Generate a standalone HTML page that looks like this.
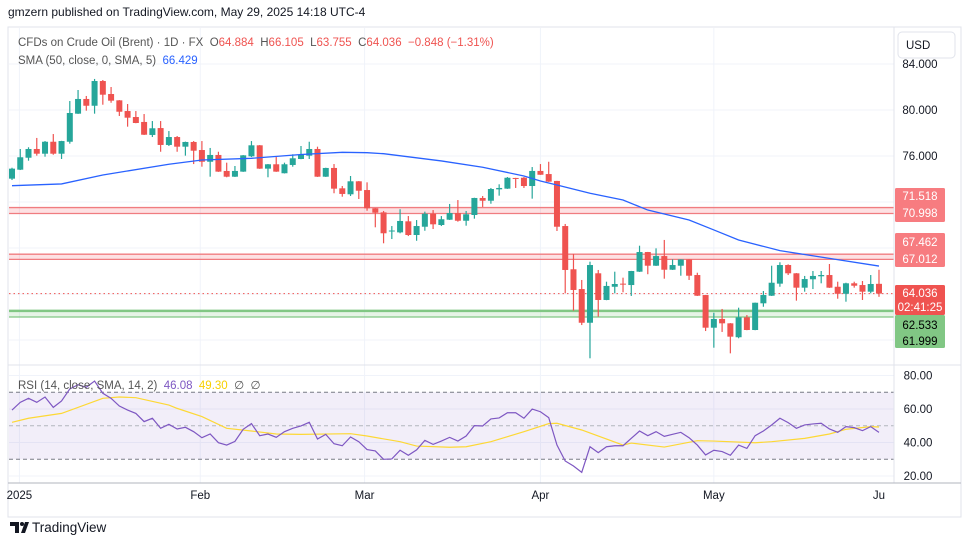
<!DOCTYPE html>
<html><head><meta charset="utf-8"><style>
body{margin:0;background:#fff;font-family:"Liberation Sans",sans-serif;}
#wrap{position:relative;width:970px;height:546px;overflow:hidden;background:#fff}
svg text{font-family:"Liberation Sans",sans-serif}
</style></head><body>
<div id="wrap">
<svg id="chart" width="970" height="546"></svg>
</div>
<script>
// ---- data ----
const opens  = [74.03,74.81,75.85,76.61,76.20,77.24,76.20,77.24,79.68,80.96,80.37,82.52,81.39,80.84,79.91,79.39,78.96,77.83,78.43,76.96,77.65,76.81,77.22,76.52,75.50,76.09,74.70,74.20,74.64,75.97,76.93,74.90,75.28,74.50,75.22,75.74,76.03,76.61,74.20,74.96,73.19,72.67,73.80,73.04,71.45,71.10,69.49,69.36,70.32,69.13,69.85,70.98,70.00,70.46,71.04,70.37,70.87,72.35,72.11,73.10,73.16,74.09,74.11,73.39,74.70,74.43,73.83,69.91,66.15,64.43,61.50,65.80,63.48,64.63,64.90,64.78,65.94,67.65,66.46,67.30,66.11,66.46,67.01,65.65,63.91,61.07,61.83,61.45,60.24,61.97,60.87,63.19,63.85,64.90,66.52,65.80,64.55,65.28,65.54,65.65,64.63,64.02,64.93,64.78,64.20,64.884];
const highs  = [74.98,76.61,76.76,77.57,77.30,77.91,77.32,80.78,81.74,81.22,82.70,82.61,82.00,80.86,80.52,79.91,79.65,79.04,79.04,78.17,77.74,77.25,77.30,77.30,76.70,76.37,75.42,75.13,76.08,77.30,76.95,75.30,75.91,75.42,76.15,76.87,77.24,76.81,74.98,75.30,73.39,74.26,73.82,73.71,71.47,71.22,69.91,71.37,70.78,70.43,71.16,71.30,70.78,71.83,72.17,71.22,72.37,72.52,73.22,73.54,74.17,74.10,74.17,75.04,75.30,75.50,73.84,70.09,67.48,65.22,66.81,66.09,65.07,65.94,65.42,66.01,68.20,67.66,67.97,68.70,67.02,67.02,67.03,65.85,63.92,62.37,62.70,61.47,62.81,62.17,63.25,64.26,66.46,66.76,66.58,65.82,65.57,66.00,66.00,66.61,65.07,64.98,65.07,65.13,65.65,66.105];
const lows   = [73.91,74.78,75.59,76.03,75.94,76.11,75.74,77.07,79.66,79.94,79.68,80.46,80.63,79.48,78.55,78.85,77.83,77.65,76.37,76.87,76.37,76.03,75.30,75.07,74.20,74.62,74.15,74.18,74.62,75.91,74.88,74.15,74.62,74.48,75.07,75.72,75.74,74.18,74.18,72.76,72.46,72.52,72.26,71.24,69.80,68.41,68.78,69.28,69.04,68.63,69.50,69.65,69.91,70.44,70.29,69.94,70.55,71.57,71.85,72.55,73.14,73.22,73.22,72.29,74.36,73.75,69.48,64.06,62.55,61.30,58.41,62.03,63.46,64.06,64.15,63.83,65.92,65.72,66.44,65.33,66.09,65.59,65.22,63.83,60.78,59.33,60.70,58.84,60.15,60.85,60.85,62.89,63.83,64.63,65.65,63.42,64.20,64.43,64.93,64.53,63.59,63.33,64.55,63.48,64.06,63.755];
const closes = [74.90,75.89,76.61,76.20,77.24,76.20,77.30,79.74,80.96,80.37,82.52,81.33,80.81,79.85,79.33,78.87,77.85,78.41,76.96,77.65,76.81,77.22,76.46,75.50,76.09,74.64,74.20,74.70,76.06,76.93,74.90,75.28,74.64,75.28,75.80,76.09,76.61,74.20,74.96,73.16,72.70,73.80,72.98,71.45,71.07,69.28,69.52,70.35,69.13,69.91,70.98,70.06,70.50,71.04,70.37,70.93,72.35,72.11,73.13,73.22,74.11,74.03,73.39,74.70,74.37,73.77,69.85,66.09,64.35,61.50,66.52,63.48,64.70,64.87,64.87,66.00,67.65,66.46,67.30,66.11,66.52,67.01,65.59,63.85,61.07,61.83,61.45,60.29,61.97,60.87,63.24,63.91,64.98,66.52,65.80,64.55,65.30,65.57,65.65,64.55,64.02,64.93,64.72,64.20,64.87,64.036];
const smaIdx = [0,6,11,19,23,29,35,40,43,45,52,57,62,64,66,70,74,77,82,85,88,93,99,105];
const smaVal = [73.42,73.57,74.35,75.28,75.65,75.80,76.13,76.32,76.29,76.20,75.57,75.02,74.26,73.83,73.48,72.76,72.17,71.30,70.43,69.57,68.70,67.77,67.10,66.43];
const rsiVal = [59.4,64.0,66.4,64.0,67.2,61.0,64.8,72.0,74.5,73.0,76.7,69.4,66.4,61.8,59.4,57.4,52.5,54.5,48.5,50.9,48.1,49.1,46.5,42.9,45.1,39.9,38.5,40.7,47.9,51.3,44.1,45.1,43.1,46.5,48.5,49.9,52.1,42.1,44.9,39.3,38.1,43.3,40.5,35.8,35.0,30.0,30.2,35.4,32.4,35.6,41.3,38.9,40.9,43.1,40.9,43.9,50.1,49.9,54.1,54.7,57.8,57.8,54.5,60.0,58.4,54.9,38.5,29.0,26.0,22.2,37.5,34.0,37.5,38.1,38.1,42.5,46.9,44.1,46.5,43.7,44.9,46.1,42.9,38.5,32.6,35.4,34.6,32.4,38.5,36.5,44.1,46.9,50.5,54.5,51.9,48.5,50.5,51.1,51.5,48.1,46.1,49.5,48.9,47.1,49.5,46.08];
const rsiMaIdx = [0,2,6,11,13,15,19,20,23,26,29,32,35,41,43,47,49,53,55,58,60,62,65,66,69,74,75,79,83,85,90,92,96,99,101,104,105];
const rsiMaVal = [52.1,54.5,57.4,66.4,67.2,66.8,62.4,60.4,55.5,48.5,46.9,45.1,44.9,45.3,43.9,40.5,37.9,37.2,37.5,40.5,43.5,46.5,51.3,51.5,47.5,38.5,39.7,37.3,41.1,40.9,39.9,40.5,42.5,45.1,47.9,49.5,49.30];
const priceTicks = [84,80,76];
const rsiTicks = [80,60,40,20];
const monthLabels = ["2025","Feb","Mar","Apr","May","Ju"];
const monthIdx = [0.9,22.8,42.7,64.0,85.0,105.0];

// ---- scales ----
const xOf = i => 12 + i*8.257;
const yP = p => 64 + (84-p)*11.5;
const yR = v => 392.3 + (70-v)*1.675;
const NS="http://www.w3.org/2000/svg";
const svg=document.getElementById('chart');
function mk(tag,attrs,parent){const e=document.createElementNS(NS,tag);for(const k in attrs)e.setAttribute(k,attrs[k]);(parent||svg).appendChild(e);return e;}

// frame
let g=mk('rect',{x:8,y:27,width:953,height:490,fill:'none',stroke:'#e0e3eb'});



// grids
priceTicks.concat([72,68,64,60]).forEach(p=>{const l=mk('line',{x1:9,x2:894,y1:yP(p),y2:yP(p),stroke:'#f0f3fa'});

});
rsiTicks.forEach(v=>{const l=mk('line',{x1:9,x2:894,y1:yR(v),y2:yR(v),stroke:'#f0f3fa'});

});
monthIdx.slice(0,5).forEach(i=>{const l=mk('line',{x1:xOf(i),x2:xOf(i),y1:28,y2:483,stroke:'#f0f3fa'});

});

// zones
function zone(a,b,fill,stroke,name){const r=mk('rect',{x:9,y:yP(a),width:885,height:yP(b)-yP(a),fill:fill});


[a,b].forEach(p=>{const l=mk('line',{x1:9,x2:894,y1:yP(p),y2:yP(p),stroke:stroke,'stroke-width':1.3});

});}
zone(71.518,70.998,'rgba(242,54,69,0.15)','#f07c80','resistance-zone-71');
zone(67.462,67.012,'rgba(242,54,69,0.15)','#f07c80','resistance-zone-67');
zone(62.533,61.999,'rgba(129,199,132,0.2)','#81c784','support-zone-62');
let sl=mk('line',{x1:9,x2:894,y1:yP(62.533),y2:yP(62.533),stroke:'#81c784','stroke-width':2.5});



// current price dotted
let cp=mk('line',{x1:9,x2:894,y1:yP(64.036),y2:yP(64.036),stroke:'#ef5350','stroke-dasharray':'1.5,3'});



// candles
opens.forEach((o,i)=>{const c=closes[i],up=c>=o,col=up?'#26a69a':'#ef5350',x=xOf(i);
const w=mk('line',{x1:x,x2:x,y1:yP(highs[i]),y2:yP(lows[i]),stroke:col,'stroke-width':1.2});


const top=yP(Math.max(o,c)),h=Math.max(1,Math.abs(yP(o)-yP(c)));
const b=mk('rect',{x:x-3,y:top,width:6,height:h,fill:col});

});

// SMA
let sma=mk('polyline',{points:smaIdx.map((i,k)=>xOf(i)+','+yP(smaVal[k])).join(' '),fill:'none',stroke:'#2962ff','stroke-width':1.3});



// pane separator
let sep=mk('line',{x1:8,x2:961,y1:365,y2:365,stroke:'#e0e3eb'});



// RSI band
let band=mk('rect',{x:9,y:yR(70),width:885,height:yR(30)-yR(70),fill:'rgba(126,87,194,0.1)'});


[[70,'#787b86','4,3'],[50,'#b2b5be','4,3'],[30,'#787b86','4,3']].forEach(([v,c,d])=>{const l=mk('line',{x1:9,x2:894,y1:yR(v),y2:yR(v),stroke:c,'stroke-dasharray':d});

});
let rma=mk('polyline',{points:rsiMaIdx.map((i,k)=>xOf(i)+','+yR(rsiMaVal[k])).join(' '),fill:'none',stroke:'#fdd835','stroke-width':1.2});


let rl=mk('polyline',{points:rsiVal.map((v,i)=>xOf(i)+','+yR(v)).join(' '),fill:'none',stroke:'#7e57c2','stroke-width':1.2});



// axes
let ax=mk('line',{x1:894,x2:894,y1:27,y2:483,stroke:'#e0e3eb'});


let bx=mk('line',{x1:8,x2:961,y1:483,y2:483,stroke:'#b2b5be'});


priceTicks.forEach(p=>{const t=mk('text',{x:920,y:yP(p)+4,'font-size':11.5,fill:'#131722','text-anchor':'middle'});t.textContent=p.toFixed(3);

});
rsiTicks.forEach(v=>{const t=mk('text',{x:918,y:yR(v)+4,'font-size':11.5,fill:'#131722','text-anchor':'middle'});t.textContent=v.toFixed(2);

});
monthLabels.forEach((m,k)=>{const t=mk('text',{x:xOf(monthIdx[k]),y:499,'font-size':11.5,fill:'#131722','text-anchor':'middle'});t.textContent=m;

});

// price labels on axis
function box(y1,h,fill,lines,tcol,name){const r=mk('rect',{x:895,y:y1,width:50,height:h,fill:fill,rx:1.5});


lines.forEach(([txt,yy])=>{const t=mk('text',{x:920,y:yy,'font-size':11.5,fill:tcol,'text-anchor':'middle'});t.textContent=txt;

});}
box(188,34,'#f77c80',[['71.518',200],['70.998',217]],'#fff','zone-71-label');
box(233,34,'#f77c80',[['67.462',246],['67.012',263]],'#fff','zone-67-label');
box(285,30,'#ef5350',[['64.036',297],['02:41:25',311]],'#fff','last-price-label');
box(315,33,'#81c784',[['62.533',329],['61.999',345]],'#000','support-label');

// USD button
let ub=mk('rect',{x:898,y:32,width:57,height:26,fill:'#fff',stroke:'#e0e3eb',rx:4});


let ut=mk('text',{x:906,y:49,'font-size':11.5,fill:'#131722'});ut.textContent='USD';



// header & legends
function txt(x,y,s,col,size,name,bold){const t=mk('text',{x:x,y:y,'font-size':size,fill:col});if(bold)t.setAttribute('font-weight','bold');t.textContent=s;

return t;}
txt(8,16,'gmzern published on TradingView.com, May 29, 2025 14:18 UTC-4','#131722',12,'publish-header');
const l1=mk('text',{x:18,y:46,'font-size':11.5,fill:'#555'});


l1.innerHTML='CFDs on Crude Oil (Brent) · 1D · FX  O<tspan fill="#ef5350">64.884</tspan>  H<tspan fill="#ef5350">66.105</tspan>  L<tspan fill="#ef5350">63.755</tspan>  C<tspan fill="#ef5350">64.036</tspan>  <tspan fill="#ef5350">−0.848 (−1.31%)</tspan>';
l1.style.whiteSpace='pre';
const l2=mk('text',{x:18,y:64,'font-size':11.5,fill:'#555'});


l2.innerHTML='SMA (50, close, 0, SMA, 5)  <tspan fill="#2962ff">66.429</tspan>';l2.style.whiteSpace='pre';
const l3=mk('text',{x:18,y:389,'font-size':11.5,fill:'#555'});


l3.innerHTML='RSI (14, close, SMA, 14, 2)  <tspan fill="#7e57c2">46.08</tspan>  <tspan fill="#f7d000">49.30</tspan>  ∅  ∅';l3.style.whiteSpace='pre';

// logo
const lg=mk('g',{});


mk('path',{d:'M10 522h9v11h-4v-7h-5z M21 533l4-11h4l-4 11z',fill:'#131722'},lg);
mk('circle',{cx:22,cy:524,r:2,fill:'#131722'},lg);
const lt=mk('text',{x:32,y:532,'font-size':13.5,fill:'#131722'},lg);lt.textContent='TradingView';


</script>
</body></html>
